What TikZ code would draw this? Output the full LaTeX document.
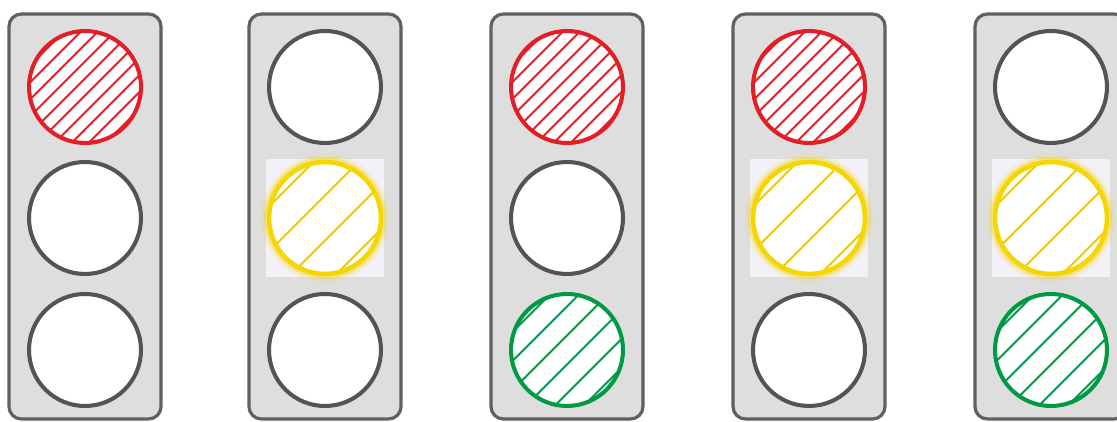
\documentclass[tikz,border=0pt]{standalone}
\usetikzlibrary{calc}
\definecolor{casefill}{RGB}{222,222,222}
\definecolor{caseline}{RGB}{96,96,96}
\definecolor{offline}{RGB}{84,84,84}
\definecolor{redlamp}{RGB}{228,30,38}
\definecolor{amberlamp}{RGB}{246,214,0}
\definecolor{amberhatch}{RGB}{238,200,0}
\definecolor{greenlamp}{RGB}{0,154,68}
\definecolor{glowbox}{RGB}{242,241,248}
\tikzset{
  housing/.style={rectangle, draw=caseline, fill=casefill, line width=1.8pt,
    rounded corners=7pt, minimum width=3.04cm, minimum height=8.1cm, inner sep=0pt},
  lamp/.style={circle, draw=offline, fill=white, line width=2.3pt,
    minimum size=2.24cm, inner sep=0pt},
  hatch/.style n args={3}{path picture={
      \foreach \k in {#2}
        \draw[#1, line width=1.05pt]
          ($(path picture bounding box.center)+(\k*#3-2cm,-2cm)$) -- ++(4cm,4cm);}},
  redon/.style={lamp, draw=redlamp, hatch={redlamp}{-4.5,-3.5,...,4.5}{0.34cm}},
  greenon/.style={lamp, draw=greenlamp, hatch={greenlamp}{-2.5,-1.5,...,2.5}{0.58cm}},
  amberon/.style={lamp, draw=amberlamp, line width=2.6pt,
    preaction={draw=amberlamp, line width=9pt, draw opacity=0.14},
    preaction={draw=amberlamp, line width=5.5pt, draw opacity=0.35},
    hatch={amberhatch}{-1.5,-0.5,...,1.5}{0.9cm}},
  glowsq/.style={rectangle, fill=glowbox, minimum size=2.36cm, inner sep=0pt}
}
\begin{document}
\begin{tikzpicture}[x=0.02cm, y=-0.02cm]
  \clip (0,0) rectangle (1117,422);
  \fill[white] (0,0) rectangle (1117,422);
  % housings
  \foreach \x [count=\i] in {85,325,567,809,1051}
    \node[housing] (case\i) at (\x,216.5) {};
  % light 1
  \node[redon] (top1) at (85,87) {};
  \node[lamp] (mid1) at (85,218) {};
  \node[lamp] (bot1) at (85,350) {};
  % light 2
  \node[lamp] (top2) at (325,87) {};
  \node[glowsq] (glow2) at (325,218) {};
  \node[amberon] (mid2) at (325,218) {};
  \node[lamp] (bot2) at (325,350) {};
  % light 3
  \node[redon] (top3) at (567,87) {};
  \node[lamp] (mid3) at (567,218) {};
  \node[greenon] (bot3) at (567,350) {};
  % light 4
  \node[redon] (top4) at (809,87) {};
  \node[glowsq] (glow4) at (809,218) {};
  \node[amberon] (mid4) at (809,218) {};
  \node[lamp] (bot4) at (809,350) {};
  % light 5
  \node[lamp] (top5) at (1051,87) {};
  \node[glowsq] (glow5) at (1051,218) {};
  \node[amberon] (mid5) at (1051,218) {};
  \node[greenon] (bot5) at (1051,350) {};
\end{tikzpicture}
\end{document}
